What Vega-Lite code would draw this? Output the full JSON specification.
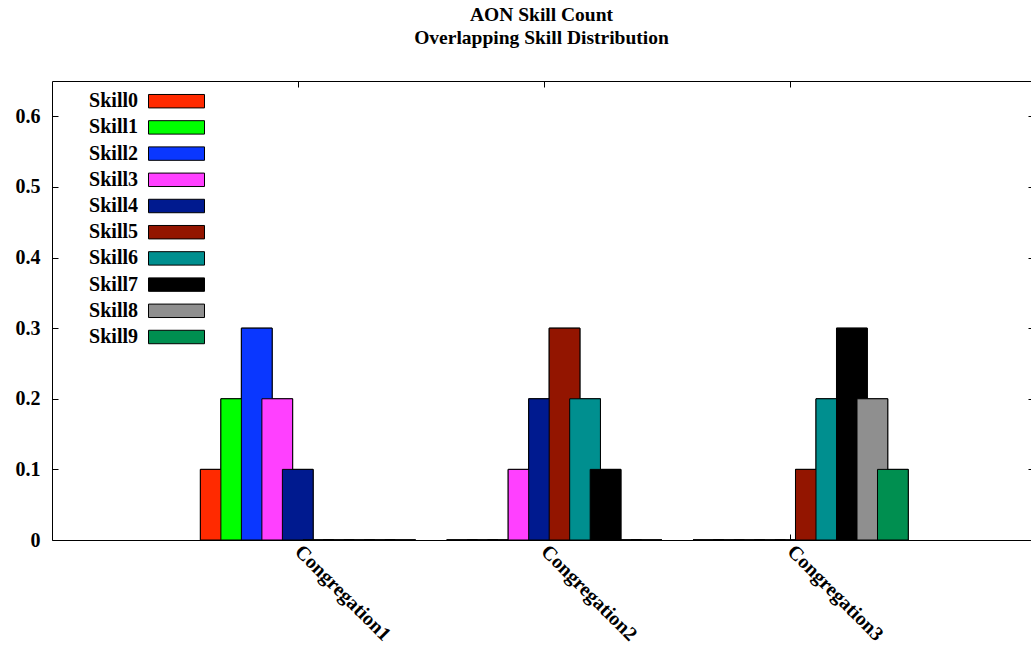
{
  "$schema": "https://vega.github.io/schema/vega-lite/v6.json",
  "autosize": "none",
  "padding": {"left": 52, "top": 81, "right": 0, "bottom": 107},
  "width": 979,
  "height": 459,
  "background": "white",
  "config": {
    "view": {"stroke": "black", "strokeWidth": 1},
    "font": "Liberation Serif"
  },
  "title": {
    "text": ["AON Skill Count", "Overlapping Skill Distribution"],
    "font": "Liberation Serif",
    "fontSize": 19.5,
    "fontWeight": "bold",
    "color": "black",
    "anchor": "middle",
    "frame": "group",
    "lineHeight": 23,
    "offset": 32
  },
  "data": {
    "values": [
      {"cong": "Congregation1", "skill": "Skill0", "value": 0.1},
      {"cong": "Congregation1", "skill": "Skill1", "value": 0.2},
      {"cong": "Congregation1", "skill": "Skill2", "value": 0.3},
      {"cong": "Congregation1", "skill": "Skill3", "value": 0.2},
      {"cong": "Congregation1", "skill": "Skill4", "value": 0.1},
      {"cong": "Congregation1", "skill": "Skill5", "value": 0},
      {"cong": "Congregation1", "skill": "Skill6", "value": 0},
      {"cong": "Congregation1", "skill": "Skill7", "value": 0},
      {"cong": "Congregation1", "skill": "Skill8", "value": 0},
      {"cong": "Congregation1", "skill": "Skill9", "value": 0},
      {"cong": "Congregation2", "skill": "Skill0", "value": 0},
      {"cong": "Congregation2", "skill": "Skill1", "value": 0},
      {"cong": "Congregation2", "skill": "Skill2", "value": 0},
      {"cong": "Congregation2", "skill": "Skill3", "value": 0.1},
      {"cong": "Congregation2", "skill": "Skill4", "value": 0.2},
      {"cong": "Congregation2", "skill": "Skill5", "value": 0.3},
      {"cong": "Congregation2", "skill": "Skill6", "value": 0.2},
      {"cong": "Congregation2", "skill": "Skill7", "value": 0.1},
      {"cong": "Congregation2", "skill": "Skill8", "value": 0},
      {"cong": "Congregation2", "skill": "Skill9", "value": 0},
      {"cong": "Congregation3", "skill": "Skill0", "value": 0},
      {"cong": "Congregation3", "skill": "Skill1", "value": 0},
      {"cong": "Congregation3", "skill": "Skill2", "value": 0},
      {"cong": "Congregation3", "skill": "Skill3", "value": 0},
      {"cong": "Congregation3", "skill": "Skill4", "value": 0},
      {"cong": "Congregation3", "skill": "Skill5", "value": 0.1},
      {"cong": "Congregation3", "skill": "Skill6", "value": 0.2},
      {"cong": "Congregation3", "skill": "Skill7", "value": 0.3},
      {"cong": "Congregation3", "skill": "Skill8", "value": 0.2},
      {"cong": "Congregation3", "skill": "Skill9", "value": 0.1}
    ]
  },
  "encoding": {
    "x": {
      "field": "cong",
      "type": "nominal",
      "scale": {"paddingInner": 0, "paddingOuter": 0.4874, "align": 0.5117}
    },
    "xOffset": {
      "field": "skill",
      "type": "nominal",
      "scale": {"paddingInner": 0, "paddingOuter": 0, "range": [87.1, 292.1]}
    },
    "y": {
      "field": "value",
      "type": "quantitative",
      "scale": {"domain": [0, 0.65], "nice": false, "zero": true}
    },
    "color": {
      "field": "skill",
      "type": "nominal",
      "scale": {
        "domain": ["Skill0", "Skill1", "Skill2", "Skill3", "Skill4", "Skill5", "Skill6", "Skill7", "Skill8", "Skill9"],
        "range": ["#ff2a00", "#00ff00", "#0a37ff", "#ff40ff", "#001a8f", "#931500", "#008f8f", "#000000", "#8f8f8f", "#008f50"]
      },
      "legend": {
        "title": null,
        "orient": "none",
        "legendX": 110,
        "legendY": 5.7,
        "padding": 0,
        "symbolType": "M-2,-0.48H2V0.48H-2Z",
        "symbolSize": 784,
        "symbolStrokeColor": "black",
        "symbolStrokeWidth": 1,
        "symbolOpacity": 1,
        "labelAlign": "right",
        "labelOffset": -53,
        "labelFont": "Liberation Serif",
        "labelFontSize": 20,
        "labelFontWeight": "bold",
        "labelColor": "black",
        "labelLimit": 200,
        "rowPadding": 1.2
      }
    }
  },
  "layer": [
    {
      "mark": {"type": "bar", "width": {"band": 1.5}, "stroke": "black", "strokeWidth": 1, "opacity": 1},
      "encoding": {
        "x": {
          "field": "cong",
          "type": "nominal",
          "axis": {
            "orient": "bottom",
            "title": null,
            "domain": false,
            "tickSize": -6,
            "tickColor": "black",
            "labelAngle": 45,
            "labelAlign": "left",
            "labelBaseline": "middle",
            "labelPadding": 14,
            "labelFont": "Liberation Serif",
            "labelFontSize": 20,
            "labelFontWeight": "bold",
            "labelColor": "black"
          }
        },
        "y": {
          "field": "value",
          "type": "quantitative",
          "axis": {
            "orient": "left",
            "title": null,
            "domain": false,
            "grid": false,
            "values": [0, 0.1, 0.2, 0.3, 0.4, 0.5, 0.6],
            "format": ".1~f",
            "tickSize": -6,
            "tickColor": "black",
            "labelPadding": 18,
            "labelFont": "Liberation Serif",
            "labelFontSize": 20,
            "labelFontWeight": "bold",
            "labelColor": "black"
          }
        }
      }
    },
    {
      "mark": {"type": "bar", "width": {"band": 1.5}, "stroke": "black", "strokeWidth": 1, "opacity": 1},
      "encoding": {
        "x": {
          "field": "cong",
          "type": "nominal",
          "axis": {"orient": "top", "title": null, "domain": false, "labels": false, "tickSize": -6, "tickColor": "black"}
        },
        "y": {
          "field": "value",
          "type": "quantitative",
          "axis": {"orient": "right", "title": null, "domain": false, "grid": false, "labels": false, "values": [0, 0.1, 0.2, 0.3, 0.4, 0.5, 0.6], "tickSize": -3, "tickColor": "black"}
        }
      }
    }
  ],
  "resolve": {"axis": {"x": "independent", "y": "independent"}}
}
